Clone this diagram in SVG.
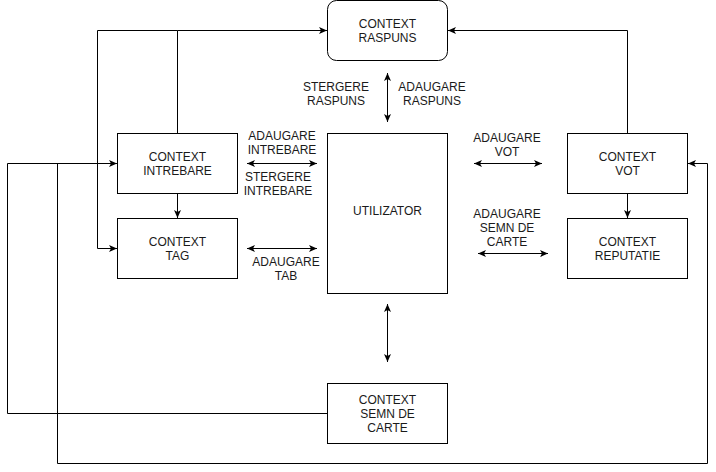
<svg xmlns="http://www.w3.org/2000/svg" width="716" height="472" viewBox="0 0 716 472">
<style>
.box{fill:#fff;stroke:#000;stroke-width:1}
.t{font-family:"Liberation Sans",Arial,Helvetica,sans-serif;font-size:12px;fill:#1a1a1a;text-anchor:middle}
.c{fill:none;stroke:#000;stroke-width:1}
</style>
<defs>
<marker id="a" viewBox="0 0 8 8" refX="8" refY="4" markerWidth="8" markerHeight="8" orient="auto-start-reverse" markerUnits="userSpaceOnUse">
<path d="M0,0.5 L8,4 L0,7.5 L2,4 z" fill="#000"/>
</marker>
</defs>
<rect width="716" height="472" fill="#fff"/>
<g id="connectors">
<path class="c" d="M177.5,133 V30.5 H327" marker-end="url(#a)"/>
<path class="c" d="M177.5,30.5 H97.5 V248.5 H117" marker-end="url(#a)"/>
<path class="c" d="M327,413.5 H7.5 V163.5 H117" marker-end="url(#a)"/>
<path class="c" d="M57.5,163.5 V463.5 H707.5 V163.5 H688" marker-end="url(#a)"/>
<path class="c" d="M627.5,133 V30.5 H448" marker-end="url(#a)"/>
<path class="c" d="M177.5,193 V218" marker-end="url(#a)"/>
<path class="c" d="M627.5,193 V218" marker-end="url(#a)"/>
<path class="c" d="M387.5,73 V122" marker-start="url(#a)" marker-end="url(#a)"/>
<path class="c" d="M247,163.5 H317" marker-start="url(#a)" marker-end="url(#a)"/>
<path class="c" d="M247,248.5 H317" marker-start="url(#a)" marker-end="url(#a)"/>
<path class="c" d="M474,163.5 H542" marker-start="url(#a)" marker-end="url(#a)"/>
<path class="c" d="M478,253.5 H548" marker-start="url(#a)" marker-end="url(#a)"/>
<path class="c" d="M387.5,304 V362" marker-start="url(#a)" marker-end="url(#a)"/>
</g>
<g id="labels">
<text class="t" x="336" y="91">STERGERE</text>
<text class="t" x="336" y="105">RASPUNS</text>
<text class="t" x="432" y="91">ADAUGARE</text>
<text class="t" x="432" y="105">RASPUNS</text>
<text class="t" x="282" y="140">ADAUGARE</text>
<text class="t" x="282" y="154">INTREBARE</text>
<text class="t" x="278" y="181">STERGERE</text>
<text class="t" x="278" y="195">INTREBARE</text>
<text class="t" x="286" y="266">ADAUGARE</text>
<text class="t" x="286" y="280">TAB</text>
<text class="t" x="507" y="142">ADAUGARE</text>
<text class="t" x="507" y="156">VOT</text>
<text class="t" x="507" y="218">ADAUGARE</text>
<text class="t" x="507" y="232">SEMN DE</text>
<text class="t" x="507" y="246">CARTE</text>
</g>
<g id="raspuns">
<rect class="box" x="327.5" y="0.5" width="120" height="60" rx="9"/>
<text class="t" x="387.5" y="27.5">CONTEXT</text>
<text class="t" x="387.5" y="41.5">RASPUNS</text>
</g>
<g id="intrebare">
<rect class="box" x="117.5" y="133.5" width="120" height="60"/>
<text class="t" x="177.5" y="160.5">CONTEXT</text>
<text class="t" x="177.5" y="174.5">INTREBARE</text>
</g>
<g id="tag">
<rect class="box" x="117.5" y="218.5" width="120" height="60"/>
<text class="t" x="177.5" y="245.5">CONTEXT</text>
<text class="t" x="177.5" y="259.5">TAG</text>
</g>
<g id="utilizator">
<rect class="box" x="327.5" y="133.5" width="120" height="160"/>
<text class="t" x="387.5" y="214.5">UTILIZATOR</text>
</g>
<g id="vot">
<rect class="box" x="567.5" y="133.5" width="120" height="60"/>
<text class="t" x="627.5" y="160.5">CONTEXT</text>
<text class="t" x="627.5" y="174.5">VOT</text>
</g>
<g id="reputatie">
<rect class="box" x="567.5" y="218.5" width="120" height="60"/>
<text class="t" x="627.5" y="245.5">CONTEXT</text>
<text class="t" x="627.5" y="259.5">REPUTATIE</text>
</g>
<g id="semn">
<rect class="box" x="327.5" y="383.5" width="120" height="60"/>
<text class="t" x="387.5" y="403.5">CONTEXT</text>
<text class="t" x="387.5" y="417.5">SEMN DE</text>
<text class="t" x="387.5" y="431.5">CARTE</text>
</g>
</svg>
